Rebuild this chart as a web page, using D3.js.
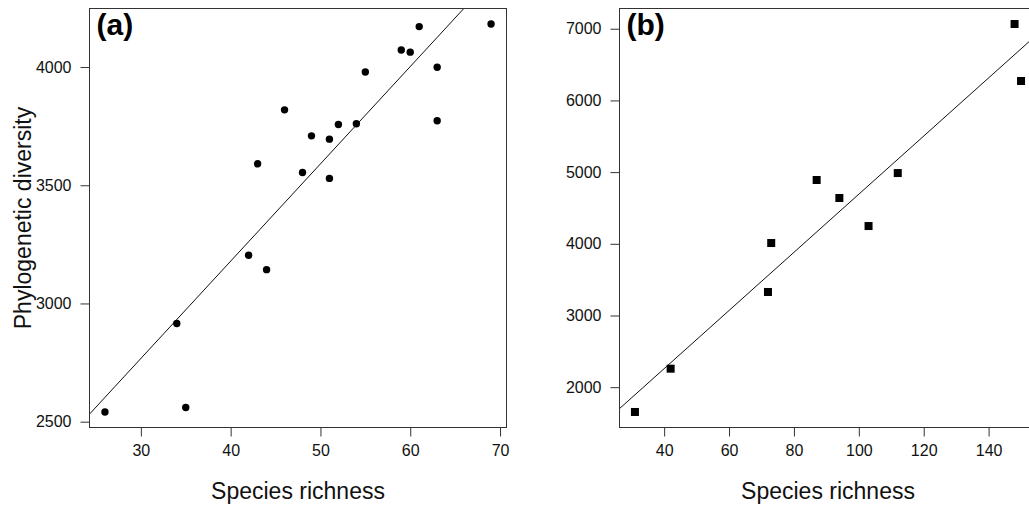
<!DOCTYPE html>
<html>
<head>
<meta charset="utf-8">
<script src="https://cdn.jsdelivr.net/npm/d3@7"></script>
<style>
  html, body { margin: 0; padding: 0; background: #fff; overflow: hidden; }
  svg { display: block; font-family: "Liberation Sans", Arial, Helvetica, sans-serif; }
</style>
</head>
<body>
<svg id="chart" width="1029" height="510"></svg>
<script>
// Panel (a): species richness vs phylogenetic diversity (circles)
const richnessA = [69, 61, 59, 60, 63, 55, 46, 63, 52, 54, 49, 51, 43, 48, 51, 42, 44, 34, 26, 35];
const diversityA = [4182, 4171, 4072, 4063, 3999, 3979, 3819, 3773, 3757, 3760, 3709, 3695, 3591, 3554, 3529, 3204, 3143, 2915, 2541, 2560];
const xTicksA = [30, 40, 50, 60, 70];
const yTicksA = [2500, 3000, 3500, 4000];

// Panel (b): species richness vs phylogenetic diversity (squares)
const richnessB = [148, 150, 87, 94, 112, 103, 73, 72, 42, 31];
const diversityB = [7066, 6271, 4890, 4639, 4987, 4248, 4011, 3328, 2258, 1654];
const xTicksB = [40, 60, 80, 100, 120, 140];
const yTicksB = [2000, 3000, 4000, 5000, 6000, 7000];

const panelLabels = ["(a)", "(b)"];
const xTitle = "Species richness";
const yTitle = "Phylogenetic diversity";

const svg = d3.select("#chart");

// Axis range padded by 4% on each side
function padded(values) {
  const [lo, hi] = d3.extent(values);
  const p = (hi - lo) * 0.04;
  return [lo - p, hi + p];
}

// Ordinary least-squares fit
function olsFit(xs, ys) {
  const mx = d3.mean(xs), my = d3.mean(ys);
  let sxy = 0, sxx = 0;
  xs.forEach((x, i) => { sxy += (x - mx) * (ys[i] - my); sxx += (x - mx) * (x - mx); });
  const b = sxy / sxx;
  return { slope: b, intercept: my - b * mx };
}

function drawPanel(cfg) {
  const { id, left, top, right, bottom, xs, ys, xTicks, yTicks, label, marker, showYTitle } = cfg;
  const x = d3.scaleLinear().domain(padded(xs)).range([left, right]);
  const y = d3.scaleLinear().domain(padded(ys)).range([bottom, top]);
  const g = svg.append("g");

  g.append("clipPath").attr("id", "clip-" + id)
    .append("rect").attr("x", left).attr("y", top)
    .attr("width", right - left).attr("height", bottom - top);

  // Fitted regression line
  const fit = olsFit(xs, ys);
  const [x0, x1] = x.domain();
  g.append("line")
    .attr("clip-path", `url(#clip-${id})`)
    .attr("x1", x(x0)).attr("y1", y(fit.intercept + fit.slope * x0))
    .attr("x2", x(x1)).attr("y2", y(fit.intercept + fit.slope * x1))
    .attr("stroke", "#111").attr("stroke-width", 1);

  // Points
  const pts = xs.map((v, i) => [v, ys[i]]);
  if (marker === "circle") {
    g.selectAll("circle.pt").data(pts).join("circle")
      .attr("class", "pt")
      .attr("cx", d => x(d[0])).attr("cy", d => y(d[1]))
      .attr("r", 3.7).attr("fill", "#000");
  } else {
    const s = 8;
    g.selectAll("rect.pt").data(pts).join("rect")
      .attr("class", "pt")
      .attr("x", d => x(d[0]) - s / 2).attr("y", d => y(d[1]) - s / 2)
      .attr("width", s).attr("height", s).attr("fill", "#000");
  }

  // Axes
  const fmt = d3.format("d");
  const xAxis = d3.axisBottom(x).tickValues(xTicks).tickFormat(fmt).tickSize(9).tickPadding(8).tickSizeOuter(0);
  const yAxis = d3.axisLeft(y).tickValues(yTicks).tickFormat(fmt).tickSize(9).tickPadding(9).tickSizeOuter(0);
  const gx = g.append("g").attr("transform", `translate(0,${bottom})`).call(xAxis);
  const gy = g.append("g").attr("transform", `translate(${left},0)`).call(yAxis);
  [gx, gy].forEach(ax => {
    ax.select(".domain").remove();
    ax.selectAll(".tick line").attr("stroke", "#333").attr("stroke-width", 1);
    ax.selectAll(".tick text").attr("fill", "#111").style("font-size", "16px")
      .style("font-family", '"Liberation Sans", Arial, sans-serif');
  });
  gx.selectAll(".tick text").attr("dy", "0.71em");

  // Frame
  g.append("rect")
    .attr("x", left).attr("y", top)
    .attr("width", right - left).attr("height", bottom - top)
    .attr("fill", "none").attr("stroke", "#333").attr("stroke-width", 1);

  // Axis titles
  g.append("text")
    .attr("x", (left + right) / 2).attr("y", 499)
    .attr("text-anchor", "middle")
    .style("font-size", "23px").attr("fill", "#111")
    .text(xTitle);
  if (showYTitle) {
    g.append("text")
      .attr("transform", `translate(31,${(top + bottom) / 2}) rotate(-90)`)
      .attr("text-anchor", "middle")
      .style("font-size", "23px").attr("fill", "#111")
      .text(yTitle);
  }

  // Panel tag
  g.append("text")
    .attr("x", left + 7).attr("y", 35)
    .style("font-size", "30px").style("font-weight", "bold").attr("fill", "#000")
    .text(label);
}

drawPanel({
  id: "a", left: 89.5, top: 8.5, right: 506.5, bottom: 427.5,
  xs: richnessA, ys: diversityA, xTicks: xTicksA, yTicks: yTicksA,
  label: panelLabels[0], marker: "circle", showYTitle: true
});
drawPanel({
  id: "b", left: 619.5, top: 8.5, right: 1036.5, bottom: 427.5,
  xs: richnessB, ys: diversityB, xTicks: xTicksB, yTicks: yTicksB,
  label: panelLabels[1], marker: "square", showYTitle: false
});
</script>
</body>
</html>
